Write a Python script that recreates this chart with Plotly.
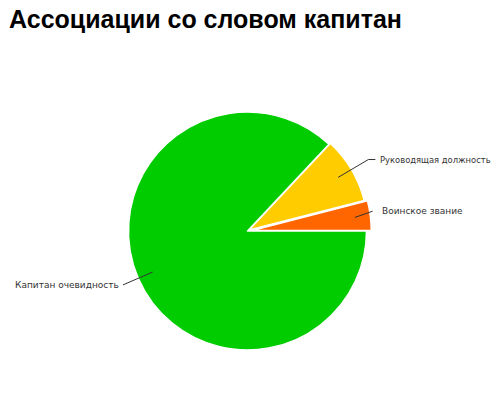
import math
import plotly.graph_objects as go

# данные
labels = ["Воинское звание", "Руководящая должность", "Капитан очевидность"]
values = [4, 9, 87]
colors = ["#FF6600", "#FFCC00", "#00CC00"]

OFF = 8                          # отступ body у страницы
W, H = 500 - OFF, 411 - 2 * OFF
cx, cy, R = 247.5, 231, 119      # центр и радиус круга на снимке, px
pulls = [0.04, 0.015, 0]
# выноски: где ломается (в радиусах), сдвиг по y, хвостик, зазор до текста
elbow = [1.06, 1.18, 1.14]
nudge = [-4, 0, 0]
tick = [0, 7, 0]
gap = [7, 3, 2]
fsize = [9, 8.4, 9]              # правая подпись иначе не влезает в окно

maxpull = max(pulls)
half = R * (1 + maxpull)
dom_x = [(cx - OFF - half) / W, (cx - OFF + half) / W]
dom_y = [(H - (cy - OFF) - half) / H, (H - (cy - OFF) + half) / H]

def px(x, y):
    return (x - OFF) / W, 1 - (y - OFF) / H

total = sum(values)

fig = go.Figure(go.Pie(
    labels=labels, values=values, sort=False,
    direction="counterclockwise", rotation=90 - values[0] / total * 360,
    pull=pulls, textinfo="none", hoverinfo="none",
    marker=dict(colors=colors, line=dict(color="white", width=1.5)),
    domain=dict(x=dom_x, y=dom_y), showlegend=False,
))

start = 0
shapes, annotations = [], []
for i, (lab, v) in enumerate(zip(labels, values)):
    a = math.radians((start + v / 2) / total * 360)
    start += v
    ca, sa = math.cos(a), math.sin(a)
    ox = cx + pulls[i] * R * ca
    oy = cy - pulls[i] * R * sa
    x0, y0 = ox + 0.87 * R * ca, oy - 0.87 * R * sa
    x1, y1 = cx + elbow[i] * R * ca, cy - elbow[i] * R * sa + nudge[i]
    side = 1 if ca >= 0 else -1
    x2 = x1 + side * tick[i]
    p0, p1, p2 = px(x0, y0), px(x1, y1), px(x2, y1)
    shapes.append(dict(
        type="path", xref="paper", yref="paper",
        path="M %f,%f L %f,%f L %f,%f" % (p0[0], p0[1], p1[0], p1[1], p2[0], p2[1]),
        line=dict(color="#333333", width=1),
    ))
    tx, ty = px(x2 + side * gap[i], y1)
    annotations.append(dict(
        text=lab, x=tx, y=ty, xref="paper", yref="paper",
        xanchor="left" if side > 0 else "right", yanchor="middle",
        showarrow=False, font=dict(family="DejaVu Sans", size=fsize[i], color="#333333"),
    ))

fig.update_layout(
    width=W, height=H,
    margin=dict(l=0, r=0, t=0, b=0),
    paper_bgcolor="white", plot_bgcolor="white",
    title=dict(text="Ассоциации со словом капитан", x=1 / W, xanchor="left",
               xref="paper", y=1 - (19 - OFF) / H, yanchor="middle", yref="container",
               font=dict(family="Liberation Sans", size=25, color="black", weight="bold")),
    shapes=shapes, annotations=annotations,
)

fig.write_html("out.html")
